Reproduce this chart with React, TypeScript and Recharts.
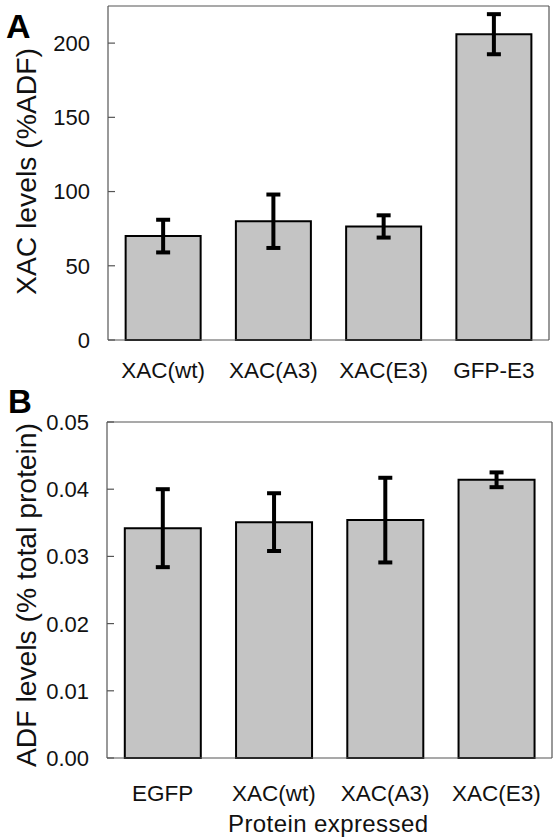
import React from 'react';
import { BarChart, Bar, XAxis, YAxis, ErrorBar } from 'recharts';

const categoriesA = ['XAC(wt)', 'XAC(A3)', 'XAC(E3)', 'GFP-E3'];
const valuesA = [70, 80, 76.5, 206];
const errorsA = [11, 18, 7.5, 13.5];
const ticksA = [0, 50, 100, 150, 200];

const categoriesB = ['EGFP', 'XAC(wt)', 'XAC(A3)', 'XAC(E3)'];
const valuesB = [0.0342, 0.0351, 0.0354, 0.0414];
const errorsB = [0.0058, 0.0043, 0.0063, 0.0011];
const ticksB = [0, 0.01, 0.02, 0.03, 0.04, 0.05];

const dataA = categoriesA.map((name, i) => ({ name, value: valuesA[i], err: errorsA[i] }));
const dataB = categoriesB.map((name, i) => ({ name, value: valuesB[i], err: errorsB[i] }));

const FONT = '"Liberation Sans", Arial, Helvetica, sans-serif';
const BOX = '#555';
const FILL = '#c4c4c4';

const makeYTick = (fmt: (v: number) => string) => (props: any) => {
  const { x, y, payload } = props;
  return (
    <g>
      <line x1={x} y1={y} x2={x + 7} y2={y} stroke={BOX} strokeWidth={1.2} />
      <text x={x - 18} y={y} dy="0.36em" textAnchor="end" fontFamily={FONT} fontSize={22} fill="#111">
        {fmt(payload.value)}
      </text>
    </g>
  );
};

const makeXTick = (dy: number) => (props: any) => {
  const { x, y, payload } = props;
  return (
    <text x={x} y={y + dy} textAnchor="middle" fontFamily={FONT} fontSize={22.5} fill="#111">
      {payload.value}
    </text>
  );
};

const YLabel = ({ text, cx, cy, len }: { text: string; cx: number; cy: number; len: number }) => (
  <text
    x={cx}
    y={cy}
    textAnchor="middle"
    fontFamily={FONT}
    fontSize={28}
    fill="#111"
    textLength={len}
    lengthAdjust="spacingAndGlyphs"
    transform={`rotate(-90, ${cx}, ${cy})`}
  >
    {text}
  </text>
);

export default function App() {
  return (
    <div style={{ position: 'absolute', left: 0, top: 0, width: 558, height: 840, background: '#fff' }}>
      <div style={{ position: 'absolute', left: 0, top: 0 }}>
        <BarChart width={558} height={400} data={dataA} margin={{ top: 5, right: 8, left: 107, bottom: 0 }} barCategoryGap="16%">
          <XAxis dataKey="name" height={60} tickSize={0} tickMargin={0} tickLine={false} axisLine={{ stroke: BOX, strokeWidth: 1.2 }} tick={makeXTick(37.5)} interval={0} />
          <XAxis dataKey="name" xAxisId="top" orientation="top" height={1} tick={false} tickLine={false} axisLine={{ stroke: BOX, strokeWidth: 1.2 }} />
          <YAxis width={1} domain={[0, 225]} ticks={ticksA} tickSize={0} tickMargin={0} tickLine={false} axisLine={{ stroke: BOX, strokeWidth: 1.2 }} tick={makeYTick((v) => String(v))} interval={0} />
          <YAxis yAxisId="right" orientation="right" width={1} domain={[0, 225]} tick={false} tickLine={false} axisLine={{ stroke: BOX, strokeWidth: 1.2 }} />
          <Bar dataKey="value" fill={FILL} stroke="#000" strokeWidth={2} isAnimationActive={false}>
            <ErrorBar dataKey="err" width={7} strokeWidth={4} stroke="#000" isAnimationActive={false} />
          </Bar>
        </BarChart>
      </div>
      <div style={{ position: 'absolute', left: 0, top: 400 }}>
        <BarChart width={558} height={440} data={dataB} margin={{ top: 21, right: 5, left: 106, bottom: 0 }} barCategoryGap="16%">
          <XAxis dataKey="name" height={82} tickSize={0} tickMargin={0} tickLine={false} axisLine={{ stroke: BOX, strokeWidth: 1.2 }} tick={makeXTick(42.5)} interval={0} />
          <XAxis dataKey="name" xAxisId="top" orientation="top" height={1} tick={false} tickLine={false} axisLine={{ stroke: BOX, strokeWidth: 1.2 }} />
          <YAxis width={1} domain={[0, 0.05]} ticks={ticksB} tickSize={0} tickMargin={0} tickLine={false} axisLine={{ stroke: BOX, strokeWidth: 1.2 }} tick={makeYTick((v) => v.toFixed(2))} interval={0} />
          <YAxis yAxisId="right" orientation="right" width={1} domain={[0, 0.05]} tick={false} tickLine={false} axisLine={{ stroke: BOX, strokeWidth: 1.2 }} />
          <Bar dataKey="value" fill={FILL} stroke="#000" strokeWidth={2} isAnimationActive={false}>
            <ErrorBar dataKey="err" width={7} strokeWidth={4} stroke="#000" isAnimationActive={false} />
          </Bar>
        </BarChart>
      </div>
      <svg width={558} height={840} style={{ position: 'absolute', left: 0, top: 0, pointerEvents: 'none' }}>
        <text x={6} y={38} fontFamily={FONT} fontSize={34} fontWeight="bold" fill="#000">A</text>
        <text x={8} y={413} fontFamily={FONT} fontSize={33} fontWeight="bold" fill="#000">B</text>
        <YLabel text="XAC levels (%ADF)" cx={36} cy={171.5} len={247} />
        <YLabel text="ADF levels (% total protein)" cx={36} cy={595} len={344} />
        <text x={328} y={832} textAnchor="middle" fontFamily={FONT} fontSize={24} fill="#111" textLength={200} lengthAdjust="spacing">
          Protein expressed
        </text>
      </svg>
    </div>
  );
}
